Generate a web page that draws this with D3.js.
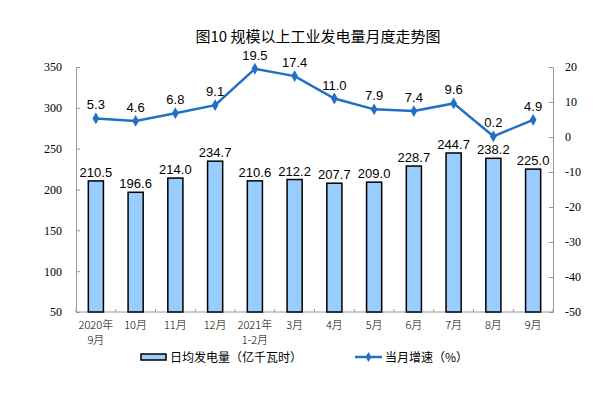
<!DOCTYPE html>
<html>
<head>
<meta charset="utf-8">
<script src="https://cdn.jsdelivr.net/npm/d3@7"></script>
<style>
body { margin: 0; background: #fff; }
svg { display: block; }
</style>
</head>
<body>
<div class="chart"></div>
<script>
var months = ['2020年\n9月', '10月', '11月', '12月', '2021年\n1-2月', '3月', '4月', '5月', '6月', '7月', '8月', '9月'];
var output = [210.5, 196.6, 214.0, 234.7, 210.6, 212.2, 207.7, 209.0, 228.7, 244.7, 238.2, 225.0];
var growth = [5.3, 4.6, 6.8, 9.1, 19.5, 17.4, 11.0, 7.9, 7.4, 9.6, 0.2, 4.9];
var leftTicks = [50, 100, 150, 200, 250, 300, 350];
var rightTicks = [-50, -40, -30, -20, -10, 0, 10, 20];

var width = 606, height = 393;
// plot edges (note: "top" is reserved on window, so prefix them)
var plotLeft = 76, plotRight = 553, plotTop = 67, plotBottom = 312;
var barColor = '#99ccff', lineColor = '#2270c4', axisColor = '#999';

var svg = d3.select('.chart').append('svg')
    .attr('width', width)
    .attr('height', height);

// title
svg.append('text')
    .attr('x', 318)
    .attr('y', 42)
    .attr('text-anchor', 'middle')
    .style('font-family', '"Noto Sans CJK SC", sans-serif')
    .style('font-size', '15px')
    .text('图10  规模以上工业发电量月度走势图');

var x = d3.scaleBand()
    .domain(months)
    .range([plotLeft, plotRight])
    .paddingInner(0.62)
    .paddingOuter(0.31);

var y = d3.scaleLinear().domain([50, 350]).range([plotBottom, plotTop]);
var y2 = d3.scaleLinear().domain([-50, 20]).range([plotBottom, plotTop]);

// axes -- plain hyphen for negatives, like the original
var yAxis = d3.axisLeft(y).tickValues(leftTicks).tickSize(-4).tickPadding(14);
var y2Axis = d3.axisRight(y2).tickValues(rightTicks).tickSize(-4).tickPadding(12)
    .tickFormat(function(d){ return String(d); });

var gy = svg.append('g').attr('transform', 'translate(' + plotLeft + ',0)').call(yAxis);
var gy2 = svg.append('g').attr('transform', 'translate(' + plotRight + ',0)').call(y2Axis);
[gy, gy2].forEach(function(g) {
    g.select('.domain').attr('stroke', axisColor);
    g.selectAll('.tick line').attr('stroke', axisColor);
    g.selectAll('.tick text')
        .style('font-family', '"Liberation Serif", serif')
        .style('font-size', '12px')
        .attr('fill', '#000');
});

// bottom axis line with boundary ticks
svg.append('line')
    .attr('x1', plotLeft).attr('x2', plotRight)
    .attr('y1', plotBottom).attr('y2', plotBottom)
    .attr('stroke', axisColor);
var step = x.step();
svg.selectAll('.xtick')
    .data(d3.range(months.length + 1))
    .enter()
    .append('line')
    .attr('x1', function(i){ return plotLeft + i * step; })
    .attr('x2', function(i){ return plotLeft + i * step; })
    .attr('y1', plotBottom)
    .attr('y2', plotBottom - 3)
    .attr('stroke', axisColor);

// x labels
svg.selectAll('.xlabel')
    .data(months)
    .enter()
    .append('text')
    .attr('text-anchor', 'middle')
    .style('font-family', '"Noto Sans CJK SC", sans-serif')
    .style('font-size', '11px')
    .style('font-weight', 300)
    .each(function(d) {
        var cx = x(d) + x.bandwidth() / 2;
        d3.select(this).selectAll('tspan')
            .data(d.split('\n'))
            .enter()
            .append('tspan')
            .attr('x', cx)
            .attr('y', function(t, i){ return 329 + i * 15; })
            .text(function(t){ return t; });
    });

// bars
svg.selectAll('.bar')
    .data(output)
    .enter()
    .append('rect')
    .attr('x', function(d, i){ return x(months[i]); })
    .attr('y', function(d){ return y(d); })
    .attr('width', x.bandwidth())
    .attr('height', function(d){ return plotBottom - y(d); })
    .attr('fill', barColor)
    .attr('stroke', '#000')
    .attr('stroke-width', 1.5);

svg.selectAll('.barlabel')
    .data(output)
    .enter()
    .append('text')
    .attr('x', function(d, i){ return x(months[i]) + x.bandwidth() / 2; })
    .attr('y', function(d){ return y(d) - 4; })
    .attr('text-anchor', 'middle')
    .style('font-family', '"Liberation Sans", Arial, sans-serif')
    .style('font-size', '13px')
    .text(function(d){ return d.toFixed(1); });

// growth line
var line = d3.line()
    .x(function(d, i){ return x(months[i]) + x.bandwidth() / 2; })
    .y(function(d){ return y2(d); });

svg.append('path')
    .datum(growth)
    .attr('d', line)
    .attr('fill', 'none')
    .attr('stroke', lineColor)
    .attr('stroke-width', 2.5);

svg.selectAll('.dot')
    .data(growth)
    .enter()
    .append('path')
    .attr('d', d3.symbol().type(d3.symbolDiamond).size(40))
    .attr('transform', function(d, i){
        return 'translate(' + (x(months[i]) + x.bandwidth() / 2) + ',' + y2(d) + ')';
    })
    .attr('fill', lineColor);

svg.selectAll('.linelabel')
    .data(growth)
    .enter()
    .append('text')
    .attr('x', function(d, i){ return x(months[i]) + x.bandwidth() / 2; })
    .attr('y', function(d){ return y2(d) - 9; })
    .attr('text-anchor', 'middle')
    .style('font-family', '"Liberation Sans", Arial, sans-serif')
    .style('font-size', '13px')
    .text(function(d){ return d.toFixed(1); });

// legend
var legend = svg.append('g').attr('transform', 'translate(0,357)');
legend.append('rect')
    .attr('x', 141).attr('y', -3)
    .attr('width', 25).attr('height', 6)
    .attr('fill', barColor)
    .attr('stroke', '#000')
    .attr('stroke-width', 1.5);
legend.append('text')
    .attr('x', 170).attr('y', 5)
    .style('font-family', '"Noto Sans CJK SC", sans-serif')
    .style('font-size', '12px')
    .text('日均发电量（亿千瓦时）');
legend.append('line')
    .attr('x1', 355).attr('x2', 382)
    .attr('y1', 0).attr('y2', 0)
    .attr('stroke', lineColor)
    .attr('stroke-width', 2.5);
legend.append('path')
    .attr('d', d3.symbol().type(d3.symbolDiamond).size(30))
    .attr('transform', 'translate(368.5,0)')
    .attr('fill', lineColor);
legend.append('text')
    .attr('x', 385).attr('y', 5)
    .style('font-family', '"Noto Sans CJK SC", sans-serif')
    .style('font-size', '12px')
    .text('当月增速（%）');
</script>
</body>
</html>
